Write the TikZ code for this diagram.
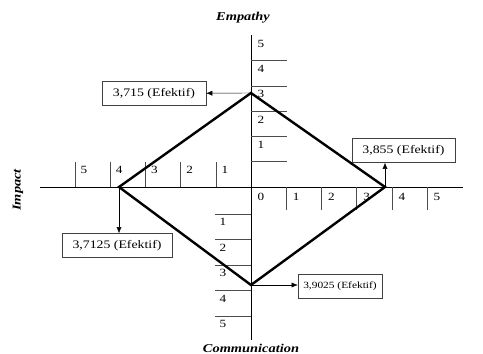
\documentclass[tikz,border=0pt]{standalone}
\usepackage{fontspec}
\setmainfont[FakeStretch=1.2]{Liberation Serif}
\usepackage{tikz}
\usetikzlibrary{arrows.meta}
\newcommand{\ef}[1]{#1 (Efektif)}
\tikzset{
    box/.style={draw=black!75, line width=0.6pt, minimum height=24pt, inner sep=2pt, font=\fontsize{11.5}{13}\selectfont},
    tick/.style={draw=black!70, line width=0.6pt},
    axisname/.style={font=\fontsize{12}{14}\selectfont\bfseries\itshape}
}

\begin{document}
\begin{tikzpicture}[x=1pt, y=-1pt, >={Latex[length=6pt,width=5pt]}, font=\fontsize{11}{13}\selectfont]
    \useasboundingbox (0,0) rectangle (483,354);

    \draw[line width=0.8pt] (251,35) -- (251,340);
    \draw[line width=0.8pt] (40,187) -- (463,187);

    \foreach \k in {1,...,5} {
        \draw[tick] (251,{187-25.3*\k}) -- (287,{187-25.3*\k});
        \node at (261,{170-25.3*\k}) {\k};
        \draw[tick] ({251-35.2*\k},162) -- ({251-35.2*\k},187);
        \node at ({260-35.2*\k},170) {\k};
        \draw[tick] ({251+35.2*\k},187) -- ({251+35.2*\k},210);
        \node at ({261+35.2*\k},197) {\k};
        \draw[tick] (215,{188.5+25.5*\k}) -- (251,{188.5+25.5*\k});
        \node at (223,{196.5+25.5*\k}) {\k};
    }
    \node at (261,197) {0};

    \node (empathy) [axisname] at (243,18) {Empathy};
    \node (communication) [axisname] at (251,348) {Communication};
    \node (impact) [axisname, rotate=90] at (18,190) {Impact};

    \coordinate (top) at (251,93);
    \coordinate (right) at (385,187);
    \coordinate (bottom) at (251,285);
    \coordinate (left) at (119,187);
    \draw[line width=2.4pt, line join=miter] (top) -- (right) -- (bottom) -- (left) -- cycle;

    \node (e) [box, minimum width=104pt] at (154,93.5) {\ef{3,715}};
    \node (c) [box, minimum width=103pt] at (403.5,150.5) {\ef{3,855}};
    \node (i) [box, minimum width=110pt] at (117,245.5) {\ef{3,7125}};
    \node (m) [box, minimum width=84pt, font=\fontsize{9.5}{11}\selectfont] at (340,286.5) {\ef{3,9025}};

    \draw[->] (top) -- (e);
    \draw[->] (right) -- (right |- c.south);
    \draw[->] (left) -- (left |- i.north);
    \draw[->] (bottom) -- (bottom -| m.west);
\end{tikzpicture}
\end{document}
